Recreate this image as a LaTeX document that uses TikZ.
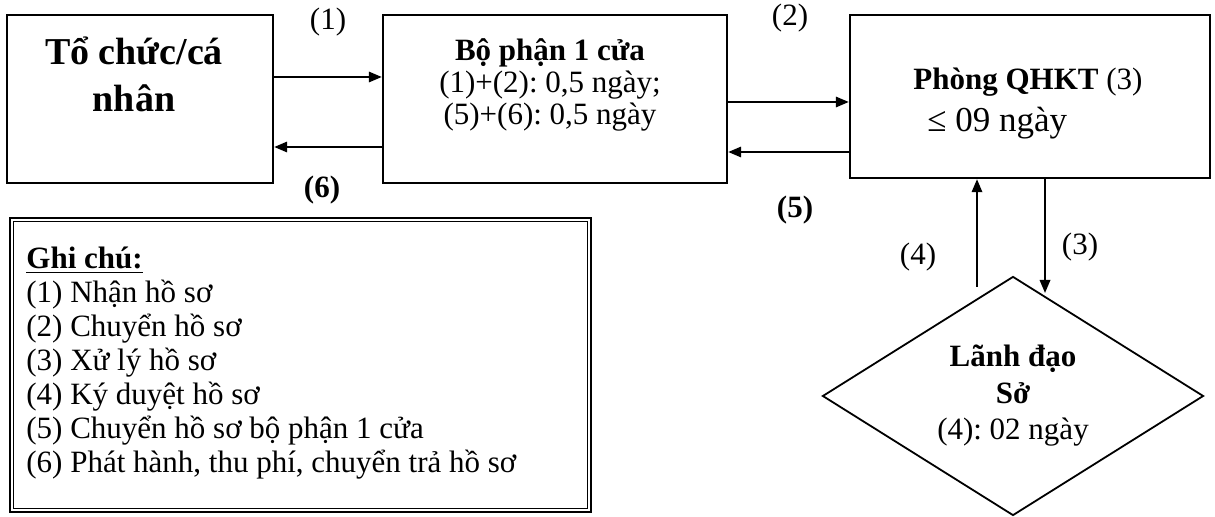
\documentclass[tikz,border=0pt]{standalone}
\usepackage{fontspec}
\setmainfont{Liberation Serif}
\frenchspacing
\usetikzlibrary{arrows.meta,shapes.geometric}

\begin{document}
\begin{tikzpicture}[x=0.5pt,y=-0.5pt,
  box/.style={draw, line width=1.2pt, rectangle, inner sep=0pt},
  flow/.style={line width=1pt, -{Triangle[length=6.5pt,width=5.2pt]}},
  txt/.style={inner sep=0pt, align=center, font=\fontsize{15.5}{16}\selectfont},
  lbl/.style={inner sep=0pt, font=\fontsize{15.5}{16}\selectfont}]
  \useasboundingbox (0,0) rectangle (1215,517);

  % Boxes
  \node[box, minimum width=133pt, minimum height=84pt] (org) at (140,99) {};
  \node[box, minimum width=172pt, minimum height=84pt] (one) at (555,99) {};
  \node[box, minimum width=180pt, minimum height=81.5pt] (qhkt) at (1030,96.5) {};
  \node[draw, diamond, line width=0.9pt, aspect=1.6, inner sep=0pt,
        minimum width=190.5pt, minimum height=119.5pt, align=center,
        font=\fontsize{15.5}{18.25}\selectfont] (ldr) at (1013,396)
        {\textbf{Lãnh đạo}\\\textbf{Sở}\\(4): 02 ngày};

  % Box texts
  \node[txt, font=\bfseries\fontsize{19}{23.5}\selectfont] (orgtxt) at (134,74) {Tổ chức/cá\\nhân};
  \node[txt] (onetxt) at (550,85) {\textbf{Bộ phận 1 cửa}\\(1)+(2): 0,5 ngày;\\(5)+(6): 0,5 ngày};
  \node[txt, align=left, anchor=west, font=\fontsize{15.5}{21}\selectfont] (qhkttxt) at (913,104)
    {\textbf{Phòng QHKT} (3)\\\hspace*{7pt}{\fontsize{17.5}{21}\selectfont ≤ 09 ngày}};

  % Arrows
  \draw[flow] (org.east |- 0,77) -- (one.west |- 0,77);
  \draw[flow] (one.west |- 0,147) -- (org.east |- 0,147);
  \draw[flow] (one.east |- 0,102) -- (qhkt.west |- 0,102);
  \draw[flow] (qhkt.west |- 0,152) -- (one.east |- 0,152);
  \coordinate (up4) at (977,287);
  \coordinate (dn3) at (1045,293);
  \draw[flow] (up4) -- (up4 |- qhkt.south);
  \draw[flow] (dn3 |- qhkt.south) -- (dn3);

  % Arrow labels
  \node[lbl] (l1) at (328,22) {(1)};
  \node[lbl] (l6) at (322,190) {\textbf{(6)}};
  \node[lbl] (l2) at (790,18) {(2)};
  \node[lbl] (l5) at (795,210) {\textbf{(5)}};
  \node[lbl] (l4) at (918,257) {(4)};
  \node[lbl] (l3) at (1080,247) {(3)};

  % Legend
  \node[draw, line width=1.4pt, inner sep=0pt, minimum width=290.5pt, minimum height=147pt] (note) at (300.5,365) {};
  \draw[line width=0.6pt] ([xshift=2.5pt,yshift=-2.5pt]note.north west) rectangle ([xshift=-2.5pt,yshift=2.5pt]note.south east);
  \node[txt, align=left, anchor=north west, font=\fontsize{15.5}{17}\selectfont] (notetxt) at (26,247)
    {\textbf{\underline{Ghi chú:}}\\
     (1) Nhận hồ sơ\\
     (2) Chuyển hồ sơ\\
     (3) Xử lý hồ sơ\\
     (4) Ký duyệt hồ sơ\\
     (5) Chuyển hồ sơ bộ phận 1 cửa\\
     (6) Phát hành, thu phí, chuyển trả hồ sơ};
\end{tikzpicture}
\end{document}
